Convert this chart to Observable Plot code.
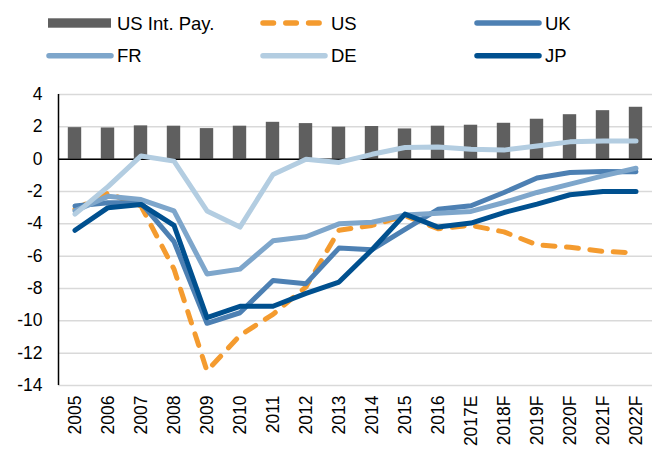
<!DOCTYPE html>
<html>
<head>
<meta charset="utf-8">
<script src="https://cdn.jsdelivr.net/npm/d3@7"></script>
<script src="https://cdn.jsdelivr.net/npm/@observablehq/plot@0.6"></script>
<style>
  html, body { margin: 0; padding: 0; background: #fff; }
  #wrap { width: 653px; height: 452px; position: relative; overflow: hidden; font-family: "Liberation Sans", Arial, sans-serif; }
  #legend { display: block; }
  #chart svg { display: block; }
</style>
</head>
<body>
<div id="wrap">
  <svg id="legend" width="653" height="75"></svg>
  <div id="chart"></div>
</div>
<script>
const years = ["2005","2006","2007","2008","2009","2010","2011","2012","2013","2014","2015","2016","2017E","2018F","2019F","2020F","2021F","2022F"];
const intPay = [1.95,1.93,2.06,2.04,1.89,2.04,2.28,2.2,1.98,2.02,1.87,2.04,2.1,2.22,2.47,2.75,3.0,3.21];
const us = [-3.1,-2.1,-2.9,-6.8,-13.1,-10.9,-9.6,-7.9,-4.4,-4.1,-3.5,-4.3,-4.1,-4.5,-5.3,-5.45,-5.7,-5.8];
const uk = [-2.9,-2.7,-2.7,-5.1,-10.15,-9.5,-7.5,-7.7,-5.5,-5.6,-4.35,-3.1,-2.88,-2.06,-1.17,-0.83,-0.76,-0.78];
const fr = [-3.2,-2.3,-2.5,-3.2,-7.1,-6.8,-5.05,-4.8,-4.0,-3.9,-3.45,-3.35,-3.23,-2.68,-2.06,-1.54,-1.03,-0.56];
const de = [-3.4,-1.7,0.2,-0.12,-3.2,-4.2,-0.95,0.0,-0.2,0.3,0.72,0.75,0.62,0.56,0.82,1.07,1.13,1.13];
const jp = [-4.4,-3.0,-2.8,-4.1,-9.8,-9.1,-9.1,-8.3,-7.6,-5.6,-3.4,-4.2,-3.95,-3.3,-2.78,-2.2,-2.0,-2.0];
const yTicks = [-14,-12,-10,-8,-6,-4,-2,0,2,4];

const seriesNames = ["US", "UK", "FR", "DE", "JP"];
const seriesValues = [us, uk, fr, de, jp];
const colors = {"US Int. Pay.": "#5f5f5f", US: "#F49B2F", UK: "#4D80B3", FR: "#7EA6CB", DE: "#B3CDE1", JP: "#00508F"};

const barData = years.map((year, i) => ({year, value: intPay[i]}));
const lineData = seriesNames.map((name, k) => years.map((year, i) => ({year, value: seriesValues[k][i], name})));

// Legend
const legendItems = [
  {name: "US Int. Pay.", kind: "bar", col: 0, row: 0},
  {name: "US", kind: "dash", col: 1, row: 0},
  {name: "UK", kind: "line", col: 2, row: 0},
  {name: "FR", kind: "line", col: 0, row: 1},
  {name: "DE", kind: "line", col: 1, row: 1},
  {name: "JP", kind: "line", col: 2, row: 1}
];
const colX = [47, 261, 475];
const rowY = [23, 55.7];
const lg = d3.select("#legend");
legendItems.forEach(it => {
  const x0 = colX[it.col], yc = rowY[it.row];
  if (it.kind === "bar") {
    lg.append("rect").attr("x", x0 + 1).attr("y", yc - 4.7).attr("width", 63).attr("height", 9.4).attr("fill", colors[it.name]);
  } else {
    const l = lg.append("line").attr("x1", x0 + 2).attr("x2", x0 + 64).attr("y1", yc).attr("y2", yc)
      .attr("stroke", colors[it.name]).attr("stroke-width", 5.5).attr("stroke-linecap", "round");
    if (it.kind === "dash") l.attr("stroke-dasharray", "10.5 12.3");
  }
  lg.append("text").attr("x", x0 + 70).attr("y", yc + 6.6)
    .attr("font-family", "'Liberation Sans', Arial, sans-serif").attr("font-size", 18.5).attr("fill", "#000")
    .text(it.name);
});

// Chart
const W = 653, H = 377, ML = 58, MR = 1, MT = 19, MB = 67;
const step = (W - ML - MR) / years.length;
const lineMarks = seriesNames.map((name, k) => Plot.line(lineData[k], {
  x: "year", y: "value",
  stroke: colors[name], strokeWidth: 5,
  strokeLinecap: "round", strokeLinejoin: "round",
  strokeDasharray: name === "US" ? "12 11.5" : null
}));

const chart = Plot.plot({
  width: W, height: H,
  marginLeft: ML, marginRight: MR, marginTop: MT, marginBottom: MB,
  style: {fontFamily: "'Liberation Sans', Arial, sans-serif", fontSize: "17.5px", color: "#000", background: "#fff"},
  x: {type: "band", domain: years, paddingInner: 0, paddingOuter: 0, label: null},
  y: {domain: [-14, 4], label: null},
  marks: [
    Plot.gridY(yTicks, {stroke: "#d9d9d9", strokeOpacity: 1, strokeWidth: 1.5}),
    Plot.barY(barData, {x: "year", y: "value", fill: colors["US Int. Pay."], insetLeft: 9.8, insetRight: 9.8}),
    Plot.ruleY([0], {stroke: "#000", strokeWidth: 1.5}),
    Plot.ruleX([years[0]], {y1: -14, y2: 4, dx: -step / 2, stroke: "#000", strokeWidth: 1.5}),
    ...lineMarks,
    Plot.axisY(yTicks, {tickSize: 0, tickPadding: 16, tickFormat: d => String(d), fontSize: 17.5, label: null}),
    Plot.axisX({tickSize: 0, tickPadding: 10, tickRotate: -90, fontSize: 17.5, label: null})
  ]
});
document.getElementById("chart").appendChild(chart);
</script>
</body>
</html>
